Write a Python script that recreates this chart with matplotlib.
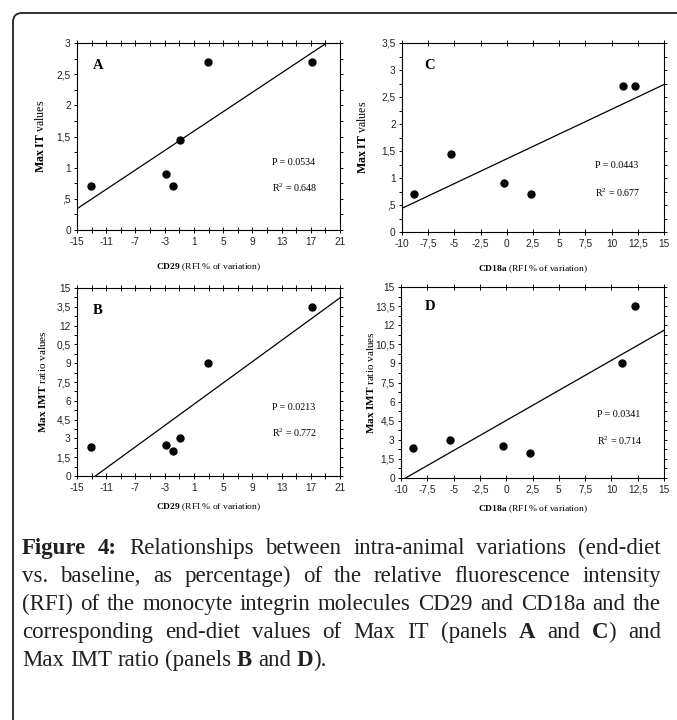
import re
import numpy as np
import matplotlib
matplotlib.use("Agg")
import matplotlib.pyplot as plt
from matplotlib.ticker import MultipleLocator, FixedLocator
from matplotlib.patches import FancyBboxPatch
from matplotlib.transforms import IdentityTransform

# -----------------------------
# Data (one value per animal)
# -----------------------------
cd29 = [-13.1, -2.8, -1.9, -0.9, 2.9, 17.1]
cd18a = [-8.9, -0.3, 2.3, -5.3, 11.05, 12.25]
max_it = [0.7, 0.9, 0.7, 1.45, 2.7, 2.7]
max_imt = [2.35, 2.5, 2.0, 3.0, 9.0, 13.5]

cd29_ticks = [-15, -11, -7, -3, 1, 5, 9, 13, 17, 21]
cd29_labels = ["-15", "-11", "-7", "-3", "1", "5", "9", "13", "17", "21"]
cd18a_ticks = [-10, -7.5, -5, -2.5, 0, 2.5, 5, 7.5, 10, 12.5, 15]
cd18a_labels = ["-10", "-7,5", "-5", "-2,5", "0", "2,5", "5", "7,5", "10", "12,5", "15"]

it_ticks_a = [0, 0.5, 1, 1.5, 2, 2.5, 3]
it_labels_a = ["0", ",5", "1", "1,5", "2", "2,5", "3"]
it_ticks_c = [0, 0.5, 1, 1.5, 2, 2.5, 3, 3.5]
it_labels_c = ["0", ",5", "1", "1,5", "2", "2,5", "3", "3,5"]
imt_ticks = [0, 1.5, 3, 4.5, 6, 7.5, 9, 10.5, 12, 13.5, 15]
imt_labels_b = ["0", "1,5", "3", "4,5", "6", "7,5", "9", "0,5", "12", "3,5", "15"]
imt_labels_d = ["0", "1,5", "3", "4,5", "6", "7,5", "9", "10,5", "12", "13,5", "15"]

p_values = {"A": "0.0534", "B": "0.0213", "C": "0.0443", "D": "0.0341"}
r2_values = {"A": "0.648", "B": "0.772", "C": "0.677", "D": "0.714"}

caption = [
    "**Figure** **4:** Relationships between intra-animal variations (end-diet",
    "vs. baseline, as percentage) of the relative fluorescence intensity",
    "(RFI) of the monocyte integrin molecules CD29 and CD18a and the",
    "corresponding end-diet values of Max IT (panels **A** and **C**) and",
    "Max IMT ratio (panels **B** and **D**).",
]

# -----------------------------
# Style
# -----------------------------
W, H = 677, 720
plt.rcParams["font.family"] = "Liberation Serif"
plt.rcParams["mathtext.fontset"] = "custom"
plt.rcParams["mathtext.rm"] = "Liberation Serif"
plt.rcParams["mathtext.bf"] = "Liberation Serif:bold"
plt.rcParams["mathtext.it"] = "Liberation Serif:italic"

fig = plt.figure(figsize=(W / 100, H / 100), dpi=100)


def fx(px):
    return px / W


def fy(py):
    return 1 - py / H


def draw_panel(letter, box, x, y, xlim, ylim, xticks, xlabels, xminor,
               yticks, ylabels, yminor, xlabel, ylabel, ylabel_fs, xlabel_y,
               ylabel_x, letter_pos, p_pos, r_pos):
    l, t, r, b = box
    ax = fig.add_axes([fx(l), fy(b), (r - l) / W, (b - t) / H])
    ax.set_xlim(*xlim)
    ax.set_ylim(*ylim)

    # regression line over the whole x range
    coef = np.polyfit(x, y, 1)
    xs = np.array(xlim, dtype=float)
    ax.plot(xs, np.polyval(coef, xs), color="black", lw=0.9)
    ax.plot(x, y, "o", color="black", ms=5, zorder=3, clip_on=False)

    ax.xaxis.set_major_locator(FixedLocator(xticks))
    ax.set_xticklabels(xlabels)
    if xminor:
        ax.xaxis.set_minor_locator(FixedLocator(np.arange(xlim[0], xlim[1] + 0.01, xminor)))
    ax.yaxis.set_major_locator(FixedLocator(yticks))
    ax.set_yticklabels(ylabels)
    ax.yaxis.set_minor_locator(MultipleLocator(yminor))

    ax.tick_params(axis="x", which="both", direction="inout", top=True,
                   bottom=True, length=4, width=0.7, pad=3)
    ax.tick_params(axis="y", which="both", direction="out", left=True,
                   right=True, length=2.5, width=0.7, pad=2)
    ax.tick_params(which="both", labelsize=7.3,
                   labelfontfamily=["Liberation Sans Narrow", "Liberation Sans"],
                   labelcolor="#222222")
    for s in ax.spines.values():
        s.set_linewidth(0.8)

    ax.text(letter_pos[0], letter_pos[1], letter, transform=ax.transAxes,
            fontsize=10.5, fontweight="bold", ha="left", va="center")
    ax.text(p_pos[0], p_pos[1], "P = " + p_values[letter], transform=ax.transAxes,
            fontsize=7.2, ha="left", va="center")
    ax.text(r_pos[0], r_pos[1], "R$^2$ = " + r2_values[letter], transform=ax.transAxes,
            fontsize=7.2, ha="left", va="center")

    fig.text(fx((l + r) / 2), fy(xlabel_y), xlabel, fontsize=6.8,
             ha="center", va="center")
    fig.text(fx(ylabel_x), fy((t + b) / 2), ylabel, fontsize=ylabel_fs,
             ha="center", va="center", rotation=90)
    return ax


lab_cd29 = r"$\mathbf{CD29}$ (RFI % of variation)"
lab_cd18a = r"$\mathbf{CD18a}$ (RFI % of variation)"
lab_it = r"$\mathbf{Max\ IT}$ values"
lab_imt = r"$\mathbf{Max\ IMT}$ ratio values"

draw_panel("A", (77, 43, 340, 230), cd29, max_it, (-15, 21), (0, 3),
           cd29_ticks, cd29_labels, 2, it_ticks_a, it_labels_a, 0.25,
           lab_cd29, lab_it, 8.6, 267, 40, (0.06, 0.88), (0.74, 0.36), (0.74, 0.225))
draw_panel("C", (402, 43, 664, 232), cd18a, max_it, (-10, 15), (0, 3.5),
           cd18a_ticks, cd18a_labels, None, it_ticks_c, it_labels_c, 0.25,
           lab_cd18a, lab_it, 8.6, 269, 363, (0.085, 0.88), (0.737, 0.35), (0.737, 0.206))
draw_panel("B", (77, 288, 340, 476), cd29, max_imt, (-15, 21), (0, 15),
           cd29_ticks, cd29_labels, 2, imt_ticks, imt_labels_b, 0.75,
           lab_cd29, lab_imt, 8.0, 507, 42, (0.06, 0.88), (0.74, 0.367), (0.74, 0.229))
draw_panel("D", (401, 287, 664, 478), cd18a, max_imt, (-10, 15), (0, 15),
           cd18a_ticks, cd18a_labels, None, imt_ticks, imt_labels_d, 0.75,
           lab_cd18a, lab_imt, 8.0, 509, 371, (0.09, 0.9), (0.745, 0.335), (0.745, 0.194))

# -----------------------------
# Frame around figure + caption
# -----------------------------
frame = FancyBboxPatch((13, -40), 760, H - 13 + 40,
                       boxstyle="round,pad=0,rounding_size=9",
                       transform=IdentityTransform(), fill=False,
                       lw=1.3, ec="#222222")
fig.add_artist(frame)

# justified caption, word by word
cap_fs = 16.5
cap_color = "#231f20"
x0, x1 = 22, 661
baseline0, line_step = 554, 28
renderer = fig.canvas.get_renderer()


def width_of(s, bold):
    t = fig.text(0, 0, s, fontsize=cap_fs, fontweight="bold" if bold else "normal")
    w = t.get_window_extent(renderer).width
    t.remove()
    return w


space_w = width_of("a a", False) - width_of("aa", False)

for i, line in enumerate(caption):
    words = []
    for word in line.split(" "):
        pieces = [p for p in re.split(r"(\*\*[^*]+\*\*)", word) if p]
        words.append([(p.strip("*"), p.startswith("**")) for p in pieces])
    widths = [sum(width_of(s, bd) for s, bd in w) for w in words]
    if i < len(caption) - 1:
        gap = (x1 - x0 - sum(widths)) / (len(words) - 1)
    else:
        gap = space_w
    xc = x0
    by = baseline0 + i * line_step
    for w, ww in zip(words, widths):
        xp = xc
        for s, bd in w:
            fig.text(fx(xp), fy(by), s, fontsize=cap_fs, color=cap_color,
                     fontweight="bold" if bd else "normal", ha="left", va="baseline")
            xp += width_of(s, bd)
        xc += ww + gap

fig.savefig("out.png", dpi=100)
